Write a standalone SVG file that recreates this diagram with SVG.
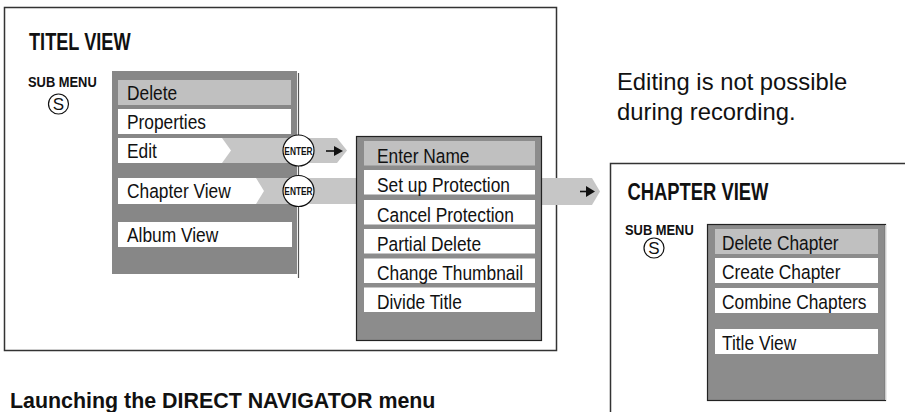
<svg xmlns="http://www.w3.org/2000/svg" width="905" height="412" viewBox="0 0 905 412">
<style>
.frame{fill:#fff;stroke:#333;stroke-width:1.5}
.panel{fill:#878787}
.panelb{fill:#8c8c8c;stroke:#222;stroke-width:1.2}
.hi{fill:#c0c0c0}
.row{fill:#fff}
.band{fill:#c6c6c6}
.t{font-family:"Liberation Sans",Arial,sans-serif;font-size:19.5px;fill:#111}
.h{font-family:"Liberation Sans",Arial,sans-serif;font-weight:bold;font-size:23px;fill:#111}
.sm{font-family:"Liberation Sans",Arial,sans-serif;font-weight:bold;font-size:15px;fill:#111}
.en{font-family:"Liberation Sans",Arial,sans-serif;font-weight:bold;font-size:11px;fill:#111}
.note{font-family:"Liberation Sans",Arial,sans-serif;font-size:23.8px;fill:#111}
.circ{fill:#fff;stroke:#111;stroke-width:1.2}
</style>
<defs>
<g id="subS">
<circle class="circ" cx="0" cy="0" r="10"/>
<text x="0" y="6" text-anchor="middle" font-family="Liberation Sans,Arial,sans-serif" font-size="17" fill="#111">S</text>
</g>
<g id="enter">
<circle class="circ" cx="0" cy="0" r="15.5"/>
<text transform="translate(0 4) scale(0.76 1)" class="en" text-anchor="middle">ENTER</text>
</g>
</defs>

<rect class="frame" x="4.5" y="7.5" width="552" height="343"/>
<rect class="frame" x="610.5" y="163.5" width="400" height="300"/>

<g id="title-view">
<text class="h" transform="translate(29 50) scale(0.79 1)">TITEL VIEW</text>
<text class="sm" transform="translate(28 87) scale(0.86 1)">SUB MENU</text>
<use href="#subS" x="58.5" y="104"/>
</g>

<g id="connectors">
<polygon class="band" points="222,138 337,138 347,150.5 337,163 222,163"/>
<polygon class="band" points="256,178 357,178 357,204 256,204"/>
<polygon class="band" points="541,178 592,178 600,191.5 592,205 541,205"/>
<line x1="326" y1="151" x2="336" y2="151" stroke="#111" stroke-width="1.6"/>
<polygon points="334,146 343,151 334,156" fill="#111"/>
<line x1="580" y1="191.5" x2="588" y2="191.5" stroke="#111" stroke-width="1.6"/>
<polygon points="586,186 595,191.5 586,197" fill="#111"/>
</g>

<g id="title-menu">
<rect class="panel" x="112" y="71" width="185" height="203"/>
<polygon class="band" points="222,138 298,138 298,163 222,163"/>
<polygon class="band" points="256,178 298,178 298,204 256,204"/>
<line x1="298.5" y1="73" x2="298.5" y2="278" stroke="#555" stroke-width="1.2"/>
<rect class="hi" x="118" y="80" width="173" height="25"/>
<rect class="row" x="118" y="109" width="173" height="25"/>
<polygon class="row" points="118,138 222,138 231,150.5 222,163 118,163"/>
<polygon class="row" points="118,178 256,178 264,191 256,204 118,204"/>
<rect class="row" x="118" y="222" width="174" height="25"/>
<text class="t" transform="translate(127 99.5) scale(0.89 1)">Delete</text>
<text class="t" transform="translate(127 128.5) scale(0.89 1)">Properties</text>
<text class="t" transform="translate(127 157.5) scale(0.89 1)">Edit</text>
<text class="t" transform="translate(127 198) scale(0.89 1)">Chapter View</text>
<text class="t" transform="translate(127 241.5) scale(0.89 1)">Album View</text>
</g>

<g id="enter-edit"><use href="#enter" x="298.5" y="150.5"/></g>
<g id="enter-chapter"><use href="#enter" x="298.5" y="191"/></g>

<g id="edit-menu">
<rect class="panelb" x="356.5" y="136.5" width="185" height="204"/>
<rect class="hi" x="364" y="141" width="171" height="24.5"/>
<rect class="row" x="364" y="170" width="171" height="24.5"/>
<rect class="row" x="364" y="200" width="171" height="24.5"/>
<rect class="row" x="364" y="229" width="171" height="24.5"/>
<rect class="row" x="364" y="258.5" width="171" height="24.5"/>
<rect class="row" x="364" y="287.5" width="171" height="24.5"/>
<text class="t" transform="translate(377 162.5) scale(0.89 1)">Enter Name</text>
<text class="t" transform="translate(377 191.5) scale(0.89 1)">Set up Protection</text>
<text class="t" transform="translate(377 221.5) scale(0.89 1)">Cancel Protection</text>
<text class="t" transform="translate(377 250.5) scale(0.89 1)">Partial Delete</text>
<text class="t" transform="translate(377 280) scale(0.89 1)">Change Thumbnail</text>
<text class="t" transform="translate(377 309) scale(0.89 1)">Divide Title</text>
</g>

<g id="note">
<text class="note" x="617" y="90">Editing is not possible</text>
<text class="note" x="617" y="120">during recording.</text>
</g>

<g id="chapter-view">
<text class="h" transform="translate(627.5 200) scale(0.8 1)">CHAPTER VIEW</text>
<text class="sm" transform="translate(625 235) scale(0.86 1)">SUB MENU</text>
<use href="#subS" x="654" y="248"/>
</g>

<g id="chapter-menu">
<rect class="panelb" x="707.5" y="224.5" width="178" height="176"/>
<line x1="885.5" y1="225" x2="885.5" y2="400" stroke="#ccc" stroke-width="1"/>
<rect class="hi" x="715" y="229" width="163" height="25"/>
<rect class="row" x="715" y="258" width="163" height="25"/>
<rect class="row" x="715" y="288" width="163" height="25"/>
<rect class="row" x="715" y="329" width="163" height="25"/>
<text class="t" transform="translate(722 249.5) scale(0.89 1)">Delete Chapter</text>
<text class="t" transform="translate(722 278.5) scale(0.89 1)">Create Chapter</text>
<text class="t" transform="translate(722 308.5) scale(0.89 1)">Combine Chapters</text>
<text class="t" transform="translate(722 349.5) scale(0.89 1)">Title View</text>
</g>

<text x="10" y="408" font-family="Liberation Sans,Arial,sans-serif" font-weight="bold" font-size="21.4" fill="#111">Launching the DIRECT NAVIGATOR menu</text>
</svg>
